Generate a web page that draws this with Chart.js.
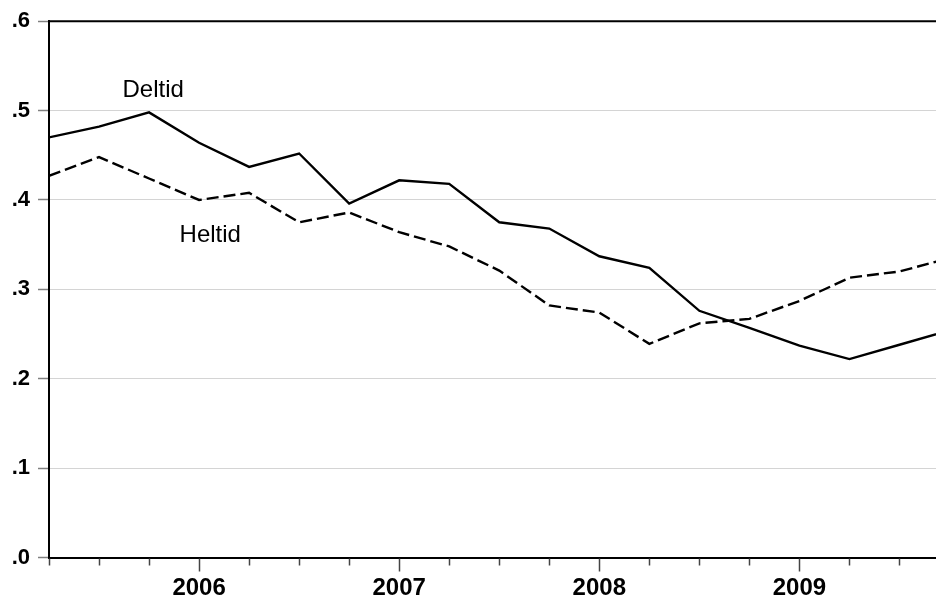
<!DOCTYPE html>
<html>
<head>
<meta charset="utf-8">
<script src="https://cdn.jsdelivr.net/npm/chart.js@4/dist/chart.umd.min.js"></script>
<style>
  html, body { margin: 0; padding: 0; background: #fff; }
  canvas { display: block; }
</style>
</head>
<body>
<canvas id="c" width="936" height="600"></canvas>
<script>
// Quarterly periods (index on the x axis)
const quarters = ['2005Q2','2005Q3','2005Q4',
  '2006Q1','2006Q2','2006Q3','2006Q4',
  '2007Q1','2007Q2','2007Q3','2007Q4',
  '2008Q1','2008Q2','2008Q3','2008Q4',
  '2009Q1','2009Q2','2009Q3','2009Q4'];

// Series values
const deltid = [0.470, 0.482, 0.498, 0.464, 0.437, 0.452, 0.396, 0.422, 0.418, 0.375,
                0.368, 0.337, 0.324, 0.276, 0.257, 0.237, 0.222, 0.238, 0.254];
const heltid = [0.427, 0.448, 0.424, 0.400, 0.408, 0.375, 0.386, 0.364, 0.348, 0.321,
                0.282, 0.274, 0.239, 0.262, 0.267, 0.287, 0.313, 0.320, 0.335];

// Y tick values
const yTicks = [0, 0.1, 0.2, 0.3, 0.4, 0.5, 0.6];

// Series name labels placed inside the plot (data coordinates)
const seriesNames = ['Deltid', 'Heltid'];
const nameAnchorX = [1.47, 2.61];
const nameAnchorY = [0.515, 0.353];

const FONT = 'Arial, "Liberation Sans", sans-serif';

function toPoints(arr) { return arr.map((v, i) => ({ x: i, y: v })); }

const framePlugin = {
  id: 'frame',
  afterDraw(chart) {
    const ctx = chart.ctx;
    const a = chart.chartArea;
    const xs = chart.scales.x;
    const ys = chart.scales.y;
    ctx.save();
    // top frame line
    ctx.strokeStyle = '#000';
    ctx.lineWidth = 2;
    ctx.beginPath();
    ctx.moveTo(a.left - 1, a.top);
    ctx.lineTo(a.right, a.top);
    ctx.stroke();
    // x tick marks (quarterly minor, yearly major)
    ctx.strokeStyle = '#444';
    ctx.lineWidth = 1.5;
    xs.ticks.forEach(t => {
      const px = Math.round(xs.getPixelForValue(t.value)) + 0.5;
      const q = quarters[Math.round(t.value)] || '';
      const len = q.endsWith('Q1') ? 13 : 7;
      ctx.beginPath();
      ctx.moveTo(px, a.bottom + 1);
      ctx.lineTo(px, a.bottom + 1 + len);
      ctx.stroke();
    });
    // series names
    ctx.fillStyle = '#000';
    ctx.font = '24px ' + FONT;
    ctx.textAlign = 'left';
    ctx.textBaseline = 'alphabetic';
    seriesNames.forEach((n, i) => {
      ctx.fillText(n, xs.getPixelForValue(nameAnchorX[i]), ys.getPixelForValue(nameAnchorY[i]));
    });
    ctx.restore();
  }
};

new Chart(document.getElementById('c'), {
  type: 'line',
  data: {
    datasets: [
      { label: 'Deltid', data: toPoints(deltid), borderColor: '#000', borderWidth: 2.4,
        pointRadius: 0, tension: 0, fill: false },
      { label: 'Heltid', data: toPoints(heltid), borderColor: '#000', borderWidth: 2.4,
        borderDash: [12, 5], pointRadius: 0, tension: 0, fill: false }
    ]
  },
  options: {
    responsive: false,
    animation: false,
    devicePixelRatio: 1,
    layout: { padding: { top: 20, right: 0, left: 0, bottom: 0 } },
    plugins: { legend: { display: false }, tooltip: { enabled: false }, title: { display: false } },
    scales: {
      x: {
        type: 'linear',
        min: 0,
        max: 17.73,
        grid: { display: true, drawOnChartArea: false, drawTicks: false },
        border: { display: true, color: '#000', width: 2 },
        ticks: {
          stepSize: 1,
          autoSkip: false,
          includeBounds: false,
          maxRotation: 0,
          padding: 16,
          color: '#000',
          font: { family: FONT, size: 24, weight: 'bold' },
          callback: (v) => {
            const q = quarters[Math.round(v)] || '';
            return q.endsWith('Q1') ? q.slice(0, 4) : '';
          }
        },
        afterFit: (s) => { s.height = 42.5; }
      },
      y: {
        min: yTicks[0],
        max: yTicks[yTicks.length - 1],
        grid: { color: '#d4d4d4', lineWidth: 1, tickLength: 11, tickColor: '#808080', tickWidth: 1.5 },
        border: { display: true, color: '#000', width: 2 },
        afterBuildTicks: (s) => { s.ticks = yTicks.map(v => ({ value: v })); },
        ticks: {
          padding: 8,
          color: '#000',
          font: { family: FONT, size: 22, weight: 'bold' },
          callback: (v) => v.toFixed(1).replace(/^0/, '')
        },
        afterFit: (s) => { s.width = 49; }
      }
    }
  },
  plugins: [framePlugin]
});
</script>
</body>
</html>
